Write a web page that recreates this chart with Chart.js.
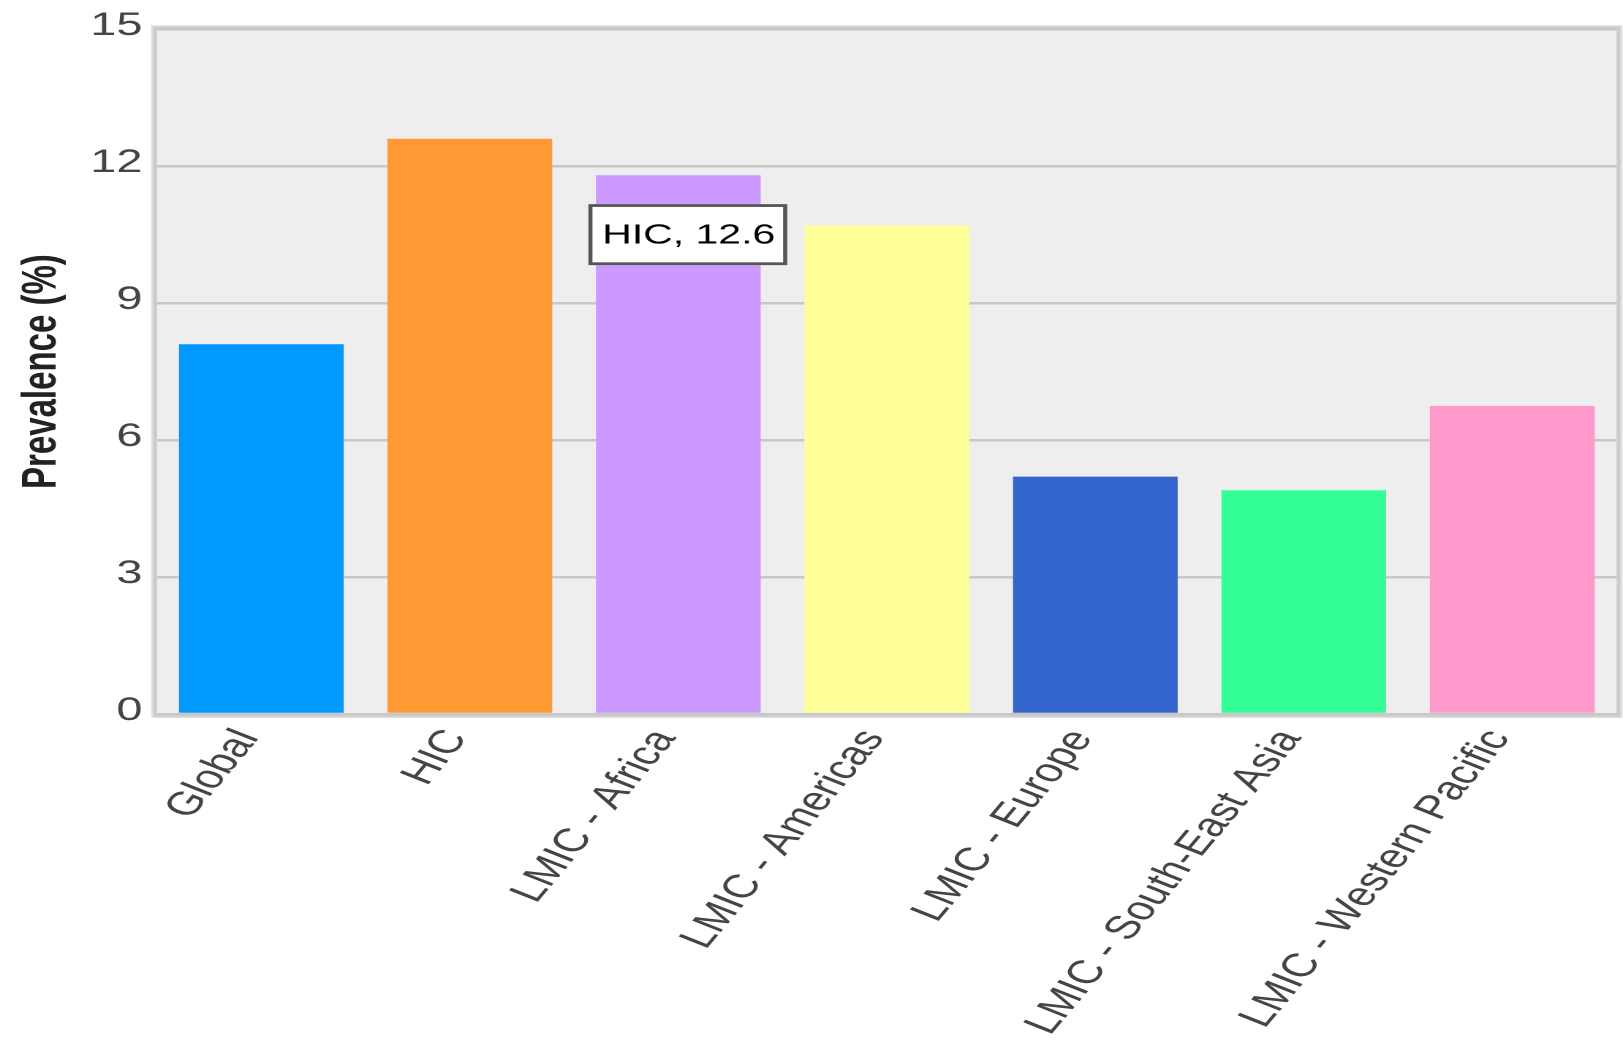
<!DOCTYPE html>
<html>
<head>
<meta charset="utf-8">
<script src="https://cdn.jsdelivr.net/npm/chart.js@4/dist/chart.umd.min.js"></script>
<style>
  html, body { margin: 0; padding: 0; background: #ffffff; overflow: hidden; }
  #wrap { width: 1110px; height: 1045px; transform: scaleX(1.46216); transform-origin: 0 0; }
  canvas { display: block; }
</style>
</head>
<body>
<div id="wrap"><canvas id="c" width="1110" height="1045"></canvas></div>
<script>
const categories = ['Global', 'HIC', 'LMIC - Africa', 'LMIC - Americas', 'LMIC - Europe', 'LMIC - South-East Asia', 'LMIC - Western Pacific'];
const prevalence = [8.1, 12.6, 11.8, 10.7, 5.2, 4.9, 6.75];
const barColors = ['#0099ff', '#ff9933', '#cc99ff', '#ffff99', '#3366cc', '#33ff99', '#ff99cc'];
const yTicks = [0, 3, 6, 9, 12, 15];
const yTitle = 'Prevalence (%)';
const tooltipIndex = 1;

const FONT = "'Liberation Sans', Arial, sans-serif";

const framePlugin = {
  id: 'frame',
  beforeDraw(chart) {
    const { ctx, chartArea: a } = chart;
    const w = a.right - a.left, h = a.bottom - a.top;
    ctx.save();
    ctx.fillStyle = '#dddddd';
    ctx.fillRect(a.left - 4, a.top - 4, w + 8, h + 8);
    ctx.fillStyle = '#cccccc';
    ctx.fillRect(a.left - 2.5, a.top - 2.5, w + 5, h + 5);
    ctx.fillStyle = '#eeeeee';
    ctx.fillRect(a.left, a.top, w, h);
    ctx.restore();
  },
  afterDraw(chart) {
    const { ctx } = chart;
    const xs = chart.scales.x, ys = chart.scales.y;
    const bw = 136, bh = 61;
    const bx = xs.getPixelForValue(2) - 61.5;
    const yc = ys.getPixelForValue(10.5);
    const by = yc - bh / 2;
    ctx.save();
    ctx.fillStyle = '#ffffff';
    ctx.fillRect(bx, by, bw, bh);
    ctx.strokeStyle = '#555555';
    ctx.lineWidth = 2.8;
    ctx.strokeRect(bx + 1.4, by + 1.4, bw - 2.8, bh - 2.8);
    ctx.fillStyle = '#000000';
    ctx.font = '28px ' + FONT;
    ctx.textAlign = 'left';
    ctx.textBaseline = 'middle';
    ctx.fillText(categories[tooltipIndex] + ', ' + prevalence[tooltipIndex], bx + 9.5, yc + 1);
    ctx.restore();
  }
};

new Chart(document.getElementById('c'), {
  type: 'bar',
  data: {
    labels: categories,
    datasets: [{
      data: prevalence,
      backgroundColor: barColors,
      borderWidth: 0,
      barPercentage: 0.79,
      categoryPercentage: 1.0
    }]
  },
  options: {
    responsive: false,
    animation: false,
    devicePixelRatio: 2,
    layout: { padding: { top: 24, right: 4.4, left: 0, bottom: 0 } },
    plugins: {
      legend: { display: false },
      tooltip: { enabled: false }
    },
    events: [],
    scales: {
      x: {
        grid: { display: false, drawTicks: false },
        border: { display: false },
        ticks: {
          autoSkip: false,
          maxRotation: 60,
          minRotation: 60,
          padding: 9,
          labelOffset: -9,
          color: '#444444',
          font: { family: FONT, size: 33 }
        },
        afterFit(scale) { scale.height = 331; }
      },
      y: {
        min: 0,
        max: 15,
        afterBuildTicks(scale) { scale.ticks = yTicks.map(v => ({ value: v })); },
        grid: { color: '#c8c8c8', lineWidth: 2.5, drawTicks: false },
        border: { display: false },
        ticks: {
          padding: 10,
          labelOffset: -3,
          color: '#444444',
          font: { family: FONT, size: 32 }
        },
        title: {
          display: true,
          text: yTitle,
          color: '#222222',
          padding: { top: 9, bottom: 0 },
          font: { family: FONT, size: 33, weight: 'bold' }
        },
        afterFit(scale) { scale.width = 107.4; }
      }
    }
  },
  plugins: [framePlugin]
});
</script>
</body>
</html>
